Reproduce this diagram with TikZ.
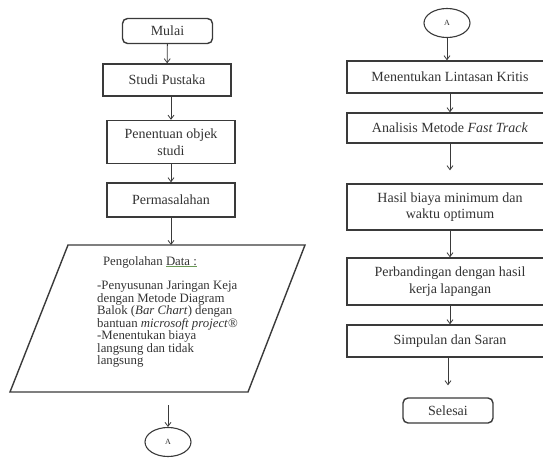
\documentclass[tikz,border=0pt]{standalone}
\usepackage{fontspec}
\setmainfont{Liberation Serif}
\usetikzlibrary{shapes.geometric, arrows.meta, positioning}
\definecolor{ink}{HTML}{333333}
\definecolor{edge}{HTML}{3A3A3A}
\definecolor{olive}{HTML}{6A9A55}
\tikzset{
  box/.style={rectangle, draw=edge, line width=1.4pt, fill=white, text=ink, align=center, font=\fontsize{14}{16.5}\selectfont, inner sep=0pt},
  leftbox/.style={box, minimum width=128pt},
  rightbox/.style={box, minimum width=206pt},
  startend/.style={box, rounded corners=5pt, minimum width=90pt, minimum height=25pt},
  connector/.style={ellipse, draw=edge, line width=1.1pt, fill=white, text=ink, minimum width=46pt, minimum height=29pt, inner sep=0pt, font=\fontsize{8}{9}\selectfont},
  datatext/.style={text=ink, align=left, font=\fontsize{12.8}{12.5}\selectfont, inner sep=0pt},
  arrow/.style={-{Straight Barb[length=4pt,width=6pt]}, line width=0.8pt, color=edge},
}
\begin{document}
\begin{tikzpicture}[x=1pt, y=-1pt]
  \clip (0,0) rectangle (543,460);
  % kolom kiri
  \node[startend] (mulai) at (167.5,31) {Mulai};
  \node[leftbox, minimum height=32pt] (studi) at (167,80) {Studi Pustaka};
  \node[leftbox, minimum height=43pt] (objek) at (171,142) {Penentuan objek\\studi};
  \node[leftbox, minimum height=34pt] (masalah) at (171,200) {Permasalahan};
  \coordinate (olahnw) at (68,245);
  \coordinate (olahne) at (305,245);
  \coordinate (olahse) at (248,392);
  \coordinate (olahsw) at (10,392);
  \draw[draw=edge, line width=1.4pt] (olahnw) -- (olahne) -- (olahse) -- (olahsw) -- cycle;
  \node[datatext] (olah) at (150,262) {Pengolahan {\color{olive}\underline{\color{ink}Data :}}};
  \node[datatext, anchor=north west] (olahisi) at (97,281) {-Penyusunan Jaringan Keja\\dengan Metode Diagram\\Balok (\textit{Bar Chart}) dengan\\bantuan \textit{microsoft project}®\\-Menentukan biaya\\langsung dan tidak\\langsung};
  \node[connector] (akiri) at (168,442) {A};
  % kolom kanan
  \node[connector] (akanan) at (447,23) {A};
  \node[rightbox, minimum height=32pt] (kritis) at (450,77) {Menentukan Lintasan Kritis};
  \node[rightbox, minimum height=30pt] (fasttrack) at (450,128) {Analisis Metode \textit{Fast Track}};
  \node[rightbox, minimum height=46pt] (hasil) at (450,207) {Hasil biaya minimum dan\\waktu optimum};
  \node[rightbox, minimum height=47pt] (banding) at (450,281.5) {Perbandingan dengan hasil\\kerja lapangan};
  \node[rightbox, minimum height=32pt] (simpulan) at (450,341) {Simpulan dan Saran};
  \node[startend] (selesai) at (448,410.5) {Selesai};
  % panah
  \draw[arrow] (mulai) -- (studi);
  \draw[arrow] (studi.south -| objek) -- (objek);
  \draw[arrow] (objek) -- (masalah);
  \draw[arrow] (masalah) -- (masalah |- olahnw);
  \draw[arrow, shorten <=13pt] (akiri |- olahsw) -- (akiri);
  \draw[arrow] (akanan) -- (akanan |- kritis.north);
  \draw[arrow] (kritis) -- (fasttrack);
  \draw[arrow, shorten >=13pt] (fasttrack) -- (hasil);
  \draw[arrow] (hasil) -- (banding);
  \draw[arrow] (banding) -- (simpulan);
  \draw[arrow, shorten >=12pt] (simpulan.south -| selesai) -- (selesai);
\end{tikzpicture}
\end{document}
